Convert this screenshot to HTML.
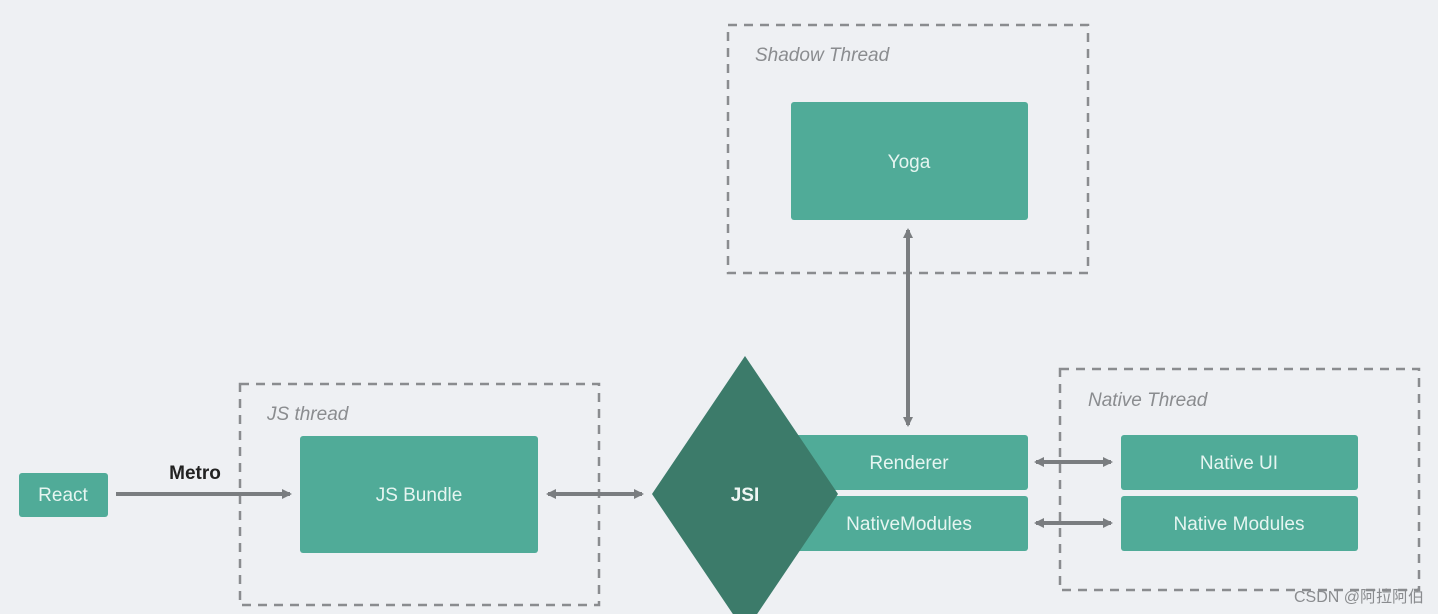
<!DOCTYPE html>
<html><head><meta charset="utf-8"><style>
html,body{margin:0;padding:0;background:#eef0f3;}
svg{display:block}
text{font-family:"Liberation Sans","Noto Sans CJK SC",sans-serif;}
</style></head><body>
<svg width="1438" height="614" viewBox="0 0 1438 614" xmlns="http://www.w3.org/2000/svg">
<defs>
<marker id="ah" markerWidth="10" markerHeight="10" refX="8" refY="5" orient="auto-start-reverse" markerUnits="userSpaceOnUse"><path d="M0,0 L10,5 L0,10 Z" fill="#7a7d80"/></marker>
</defs>
<rect width="1438" height="614" fill="#eef0f3"/>
<g fill="none" stroke="#8a8c8f" stroke-width="2.5" stroke-dasharray="9,7">
<rect x="728" y="25" width="360" height="248"/>
<rect x="240" y="384" width="359" height="221"/>
<rect x="1060" y="369" width="359" height="221"/>
</g>
<g font-style="italic" font-size="19" fill="#8a8c8f">
<text x="755" y="61">Shadow Thread</text>
<text x="267" y="420">JS thread</text>
<text x="1088" y="406">Native Thread</text>
</g>
<g fill="#50ab98">
<rect x="791" y="102" width="237" height="118" rx="3"/>
<rect x="300" y="436" width="238" height="117" rx="3"/>
<rect x="19" y="473" width="89" height="44" rx="3"/>
<rect x="780" y="435" width="248" height="55" rx="3"/>
<rect x="780" y="496" width="248" height="55" rx="3"/>
<rect x="1121" y="435" width="237" height="55" rx="3"/>
<rect x="1121" y="496" width="237" height="55" rx="3"/>
</g>
<polygon points="745,356 838,494 745,632 652,494" fill="#3c7b6a"/>
<g stroke="#7a7d80" stroke-width="4" fill="none">
<line x1="116" y1="494" x2="290" y2="494" marker-end="url(#ah)"/>
<line x1="548" y1="494" x2="642" y2="494" marker-start="url(#ah)" marker-end="url(#ah)"/>
<line x1="908" y1="230" x2="908" y2="425" marker-start="url(#ah)" marker-end="url(#ah)"/>
<line x1="1036" y1="462" x2="1111" y2="462" marker-start="url(#ah)" marker-end="url(#ah)"/>
<line x1="1036" y1="523" x2="1111" y2="523" marker-start="url(#ah)" marker-end="url(#ah)"/>
</g>
<g fill="#e6f5f1" font-size="19" text-anchor="middle">
<text x="909" y="168">Yoga</text>
<text x="419" y="501">JS Bundle</text>
<text x="63" y="501">React</text>
<text x="909" y="469">Renderer</text>
<text x="909" y="530">NativeModules</text>
<text x="1239" y="469">Native UI</text>
<text x="1239" y="530">Native Modules</text>
<text x="745" y="501" font-weight="bold" fill="#eef6f3">JSI</text>
</g>
<text x="195" y="479" font-size="19" font-weight="bold" fill="#222" text-anchor="middle">Metro</text>
<text x="1424" y="602" font-size="16" fill="#8a8c8f" text-anchor="end">CSDN @阿拉阿伯</text>
</svg>
</body></html>
